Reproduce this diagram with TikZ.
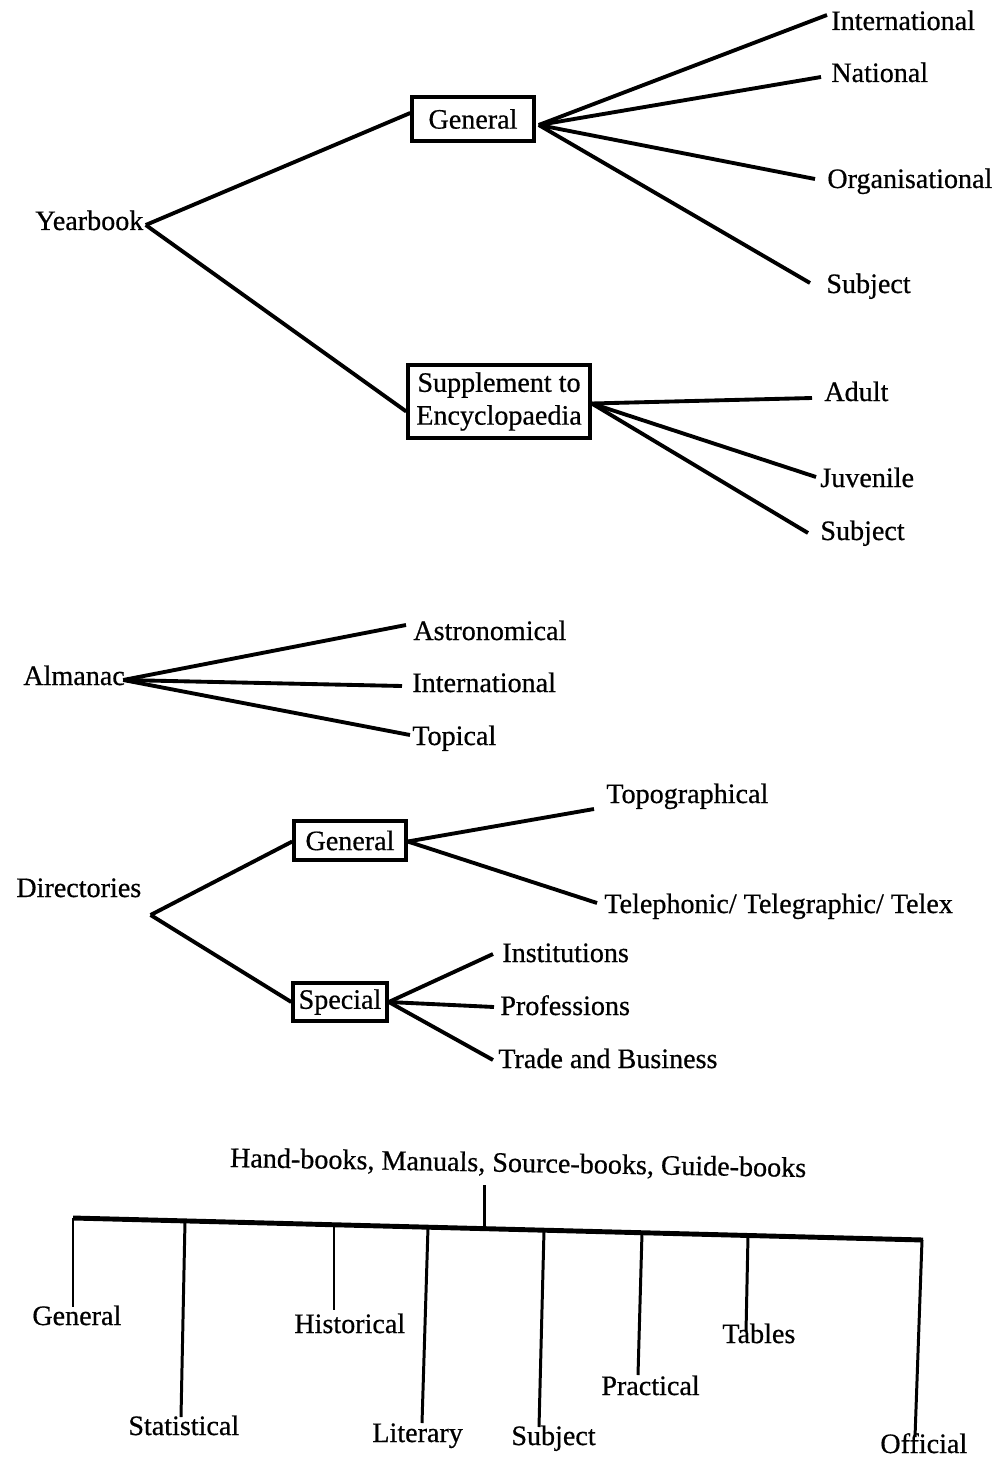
\documentclass[tikz,border=0pt]{standalone}
\usepackage{fontspec}
\setmainfont[FakeBold=0.6]{Liberation Serif}
\begin{document}
\begin{tikzpicture}[x=0.02cm,y=-0.02cm]
\tikzset{
  lbl/.style={inner sep=0pt, anchor=base west, font=\fontsize{16}{19}\selectfont},
  boxn/.style={draw, line width=2pt, inner sep=0pt, align=center, font=\fontsize{16}{18.7}\selectfont},
  conn/.style={line width=2.2pt},
  drop/.style={line width=1.7pt},
  bar/.style={line width=2.8pt},
}
\fill[white] (0,0) rectangle (1002,1459);
\useasboundingbox (0,0) rectangle (1002,1459);

% ---------------- Yearbook ----------------
\node[lbl] (yb) at (35,230) {Yearbook};
\node[boxn, minimum width=2.44cm, minimum height=0.88cm] (gen1) at (473,119) {General};
\node[boxn, minimum width=3.64cm, minimum height=1.46cm] (sup) at (499,401.5) {Supplement to\\Encyclopaedia};
\node[lbl] (intl) at (831,30) {International};
\node[lbl] (natl) at (831,82) {National};
\node[lbl] (org) at (827,188) {Organisational};
\node[lbl] (subj1) at (826,293) {Subject};
\node[lbl] (adult) at (824,401) {Adult};
\node[lbl] (juv) at (820,487) {Juvenile};
\node[lbl] (subj2) at (820,540) {Subject};

\draw[conn] ([shift={(2,-5)}]yb.base east) -- ([shift={(0,-6)}]gen1.west);
\draw[conn] ([shift={(2,-5)}]yb.base east) -- ([shift={(0,10)}]sup.west);
\draw[conn] ([shift={(3,6)}]gen1.east) -- ([shift={(-4,-15)}]intl.base west);
\draw[conn] ([shift={(3,6)}]gen1.east) -- ([shift={(-10,-5)}]natl.base west);
\draw[conn] ([shift={(3,6)}]gen1.east) -- ([shift={(-12,-9)}]org.base west);
\draw[conn] ([shift={(3,6)}]gen1.east) -- ([shift={(-16,-10)}]subj1.base west);
\draw[conn] ([shift={(0,2)}]sup.east) -- ([shift={(-12,-3)}]adult.base west);
\draw[conn] ([shift={(0,2)}]sup.east) -- ([shift={(-4,-10)}]juv.base west);
\draw[conn] ([shift={(0,2)}]sup.east) -- ([shift={(-12,-7)}]subj2.base west);

% ---------------- Almanac ----------------
\node[lbl] (alm) at (23,685) {Almanac};
\node[lbl] (astro) at (413,640) {Astronomical};
\node[lbl] (intl2) at (412,692) {International};
\node[lbl] (topic) at (412,745) {Topical};
\draw[conn] ([shift={(-2,-5)}]alm.base east) -- ([shift={(-7,-15)}]astro.base west);
\draw[conn] ([shift={(-2,-5)}]alm.base east) -- ([shift={(-10,-6)}]intl2.base west);
\draw[conn] ([shift={(-2,-5)}]alm.base east) -- ([shift={(-2,-10)}]topic.base west);

% ---------------- Directories ----------------
\node[lbl] (dir) at (16,897) {Directories};
\node[boxn, minimum width=2.24cm, minimum height=0.78cm] (dgen) at (350,840.5) {General};
\node[boxn, minimum width=1.88cm, minimum height=0.76cm] (dspec) at (340,1002) {Special};
\node[lbl] (topo) at (606,803) {Topographical};
\node[lbl] (tele) at (604,913) {Telephonic/ Telegraphic/ Telex};
\node[lbl] (inst) at (502,962) {Institutions};
\node[lbl] (prof) at (500,1015) {Professions};
\node[lbl] (trade) at (498,1068) {Trade and Business};
\draw[conn] ([shift={(9,18)}]dir.base east) -- ([shift={(0,1)}]dgen.west);
\draw[conn] ([shift={(9,18)}]dir.base east) -- (dspec.west);
\draw[conn] ([shift={(0,1)}]dgen.east) -- ([shift={(-12,6)}]topo.base west);
\draw[conn] ([shift={(0,1)}]dgen.east) -- ([shift={(-7,-10)}]tele.base west);
\draw[conn] (dspec.east) -- ([shift={(-9,-8)}]inst.base west);
\draw[conn] (dspec.east) -- ([shift={(-6,-8)}]prof.base west);
\draw[conn] (dspec.east) -- ([shift={(-5,-8)}]trade.base west);

% ---------------- Hand-books ----------------
\node[inner sep=0pt, anchor=base, rotate=-1, font=\fontsize{16}{19}\selectfont] (hb) at (518,1172) {Hand-books, Manuals, Source-books, Guide-books};
\coordinate (barL) at (73,1218);
\coordinate (barR) at (923,1240);
\coordinate (bm) at (484,1228.6);
\coordinate (b1) at (73,1218);
\coordinate (b2) at (185,1220.9);
\coordinate (b3) at (334,1224.8);
\coordinate (b4) at (428,1227.2);
\coordinate (b5) at (544,1230.2);
\coordinate (b6) at (642,1232.7);
\coordinate (b7) at (748,1235.5);
\coordinate (b8) at (922,1240);
\node[lbl] (h1) at (32,1325) {General};
\node[lbl] (h2) at (128,1435) {Statistical};
\node[lbl] (h3) at (294,1333) {Historical};
\node[lbl] (h4) at (372,1442) {Literary};
\node[lbl] (h5) at (511,1445) {Subject};
\node[lbl] (h6) at (601,1395) {Practical};
\node[lbl] (h7) at (722,1343) {Tables};
\node[lbl] (h8) at (880,1453) {Official};

\draw[drop] (484,1185) -- (bm);
\draw[bar] (barL) -- (barR);
\draw[drop] (b1) -- ([shift={(41,-18)}]h1.base west);
\draw[drop] (b2) -- ([shift={(53,-18)}]h2.base west);
\draw[drop] (b3) -- ([shift={(40,-23)}]h3.base west);
\draw[drop] (b4) -- ([shift={(50,-19)}]h4.base west);
\draw[drop] (b5) -- ([shift={(28,-18)}]h5.base west);
\draw[drop] (b6) -- ([shift={(37,-20)}]h6.base west);
\draw[drop] (b7) -- ([shift={(24,-11)}]h7.base west);
\draw[drop] (b8) -- ([shift={(35,-16)}]h8.base west);
\end{tikzpicture}
\end{document}
